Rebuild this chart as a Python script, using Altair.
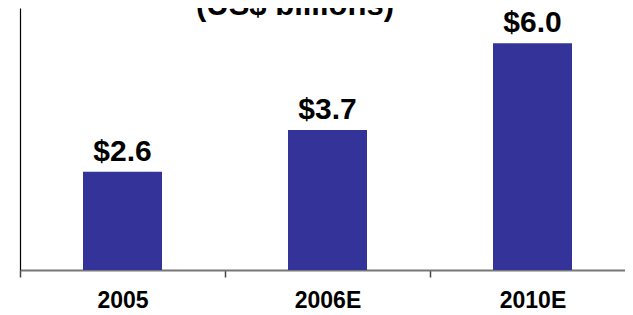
import altair as alt
import pandas as pd

years = ["2005", "2006E", "2010E"]
values = [2.6, 3.7, 6.0]
value_labels = ["$2.6", "$3.7", "$6.0"]
title_text = "(US$ billions)"

df = pd.DataFrame({"year": years, "value": values, "label": value_labels})

FONT = "Liberation Sans"
BAR_COLOR = "#333399"

x_enc = alt.X(
    "year:N",
    sort=years,
    scale=alt.Scale(range=[0, 615], paddingInner=0, paddingOuter=0),
    axis=alt.Axis(
        title=None,
        labelAngle=0,
        labelFont=FONT,
        labelFontSize=23,
        labelFontWeight="bold",
        labelColor="black",
        labelPadding=12,
        tickBand="extent",
        tickSize=7,
        tickColor="#444444",
        tickWidth=1.5,
        domainColor="#777777",
        domainWidth=2,
        grid=False,
    ),
)
y_enc = alt.Y(
    "value:Q",
    scale=alt.Scale(domain=[0, 6.93], nice=False),
    axis=alt.Axis(
        title=None,
        labels=False,
        ticks=False,
        grid=False,
        domainColor="black",
        domainWidth=1.2,
    ),
)

base = alt.Chart(df)

bars = base.mark_bar(color=BAR_COLOR, size=79).encode(x=x_enc, y=y_enc)

labels = base.mark_text(
    font=FONT, fontSize=30, fontWeight="bold", color="black",
    baseline="alphabetic", dy=-11,
).encode(x=x_enc, y=y_enc, text="label:N")

title = alt.Chart(pd.DataFrame({"t": [title_text]})).mark_text(
    font=FONT, fontSize=31, fontWeight="bold", color="black",
    baseline="alphabetic", align="center",
).encode(x=alt.value(275), y=alt.value(7), text="t:N")

chart = (
    alt.layer(bars, labels, title)
    .properties(
        width=605,
        height=262,
        autosize=alt.AutoSizeParams(type="none"),
        padding={"left": 12, "top": 0, "right": 0, "bottom": 45},
        background="white",
    )
    .configure_view(stroke=None)
)

chart.save("out.html", embed_options={"renderer": "svg", "actions": False})
